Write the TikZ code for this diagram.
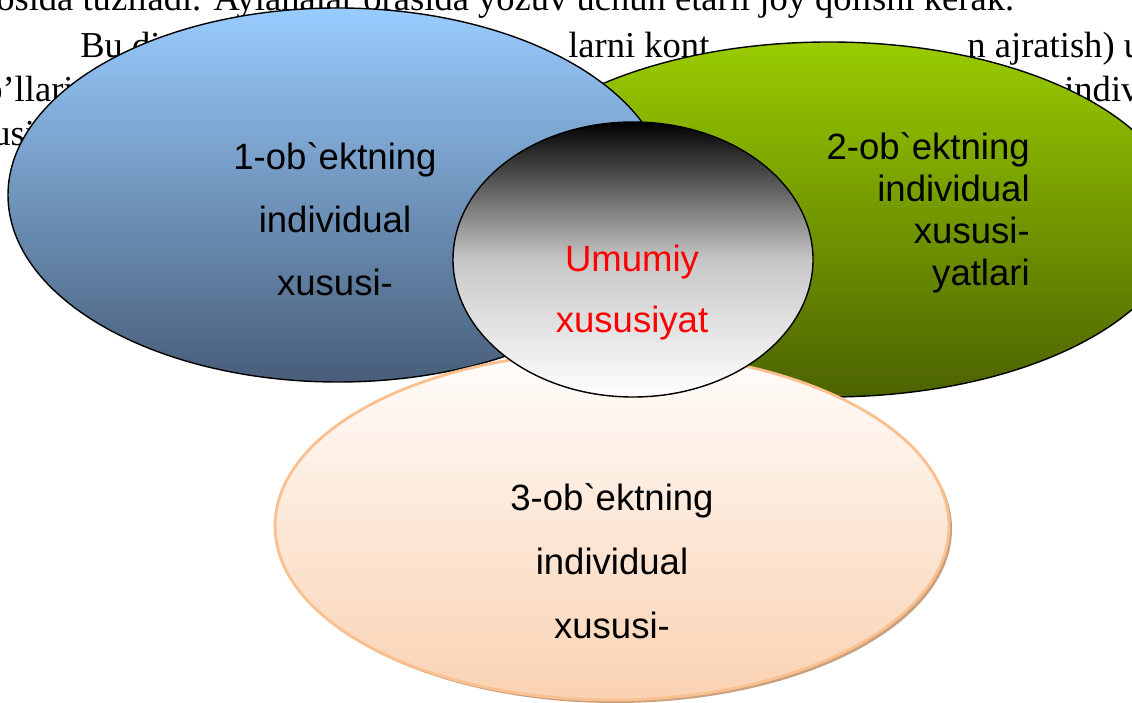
\documentclass[tikz,border=0pt]{standalone}
\usepackage{fontspec}
\setmainfont{Liberation Serif}
\newfontfamily\lblfont{Liberation Sans}
\usetikzlibrary{shapes.geometric}
\definecolor{skytop}{RGB}{153,204,255}
\definecolor{skybot}{RGB}{72,94,122}
\definecolor{limetop}{RGB}{153,204,0}
\definecolor{limebot}{RGB}{76,98,0}
\definecolor{peachtop}{RGB}{255,253,252}
\definecolor{peachbot}{RGB}{250,210,178}
\definecolor{peachline}{RGB}{250,192,143}
\definecolor{peachshadow}{RGB}{200,160,128}
\newcommand{\bq}{\textasciigrave{}}

\begin{document}
\begin{tikzpicture}[
    oval/.style={ellipse, draw=black, line width=1pt, inner sep=0pt},
    lbl/.style={font=\lblfont\fontsize{26}{30}\selectfont, anchor=base, inner sep=0pt},
    pageline/.style={font=\fontsize{26}{30}\selectfont, anchor=base west, inner sep=0pt}]
    \useasboundingbox (0,0) rectangle (28.3,17.55);
    \clip (0,0) rectangle (28.3,17.55);

    % Page text behind the diagram
    \node[pageline] (p1) at (-0.1,17.28) {osida tuziladi. Aylanalar orasida yozuv uchun etarli joy qolishi kerak.};
    \node[pageline] (p2a) at (2.0,16.1) {Bu di};
    \node[pageline] (p2b) at (14.2,16.1) {larni kont};
    \node[pageline] (p2c) at (24.18,16.1) {n ajratish) u};
    \node[pageline] (p3a) at (-0.4,15.0) {o’llari};
    \node[pageline] (p3b) at (26.6,15.0) {indiv};
    \node[pageline] (p4) at (-0.2,13.9) {usi};

    % Ellipses
    \node[oval, top color=limetop, bottom color=limebot,
          minimum width=17.575cm, minimum height=8.875cm] (obj2) at (20.725,12.0625) {};
    \node[oval, top color=skytop, bottom color=skybot,
          minimum width=16.5cm, minimum height=9.35cm] (obj1) at (8.45,12.675) {};
    \node[oval, draw=none, fill=peachshadow,
          minimum width=16.85cm, minimum height=8.7cm] (shadow3) at (15.375,4.325) {};
    \node[oval, draw=peachline, line width=2pt, top color=peachtop, bottom color=peachbot,
          minimum width=16.85cm, minimum height=8.7cm] (obj3) at (15.3,4.4) {};
    \node[oval, top color=black, bottom color=white, middle color=black!22,
          minimum width=9cm, minimum height=6.875cm] (common) at (15.825,11.0625) {};

    % Labels
    \foreach \t [count=\i] in {1-ob\bq ektning, individual, xususi-}
        \node[lbl] (lbl1-\i) at (8.375,14.875-1.575*\i) {\t};
    \foreach \t [count=\i] in {2-ob\bq ektning, individual, xususi-, yatlari}
        \node[lbl, anchor=base east] (lbl2-\i) at (25.75,14.6-1.05*\i) {\t};
    \foreach \t [count=\i] in {Umumiy, xususiyat}
        \node[lbl, text=red] (lbl0-\i) at (15.8,12.275-1.525*\i) {\t};
    \foreach \t [count=\i] in {3-ob\bq ektning, individual, xususi-}
        \node[lbl] (lbl3-\i) at (15.3,6.4-1.6*\i) {\t};
\end{tikzpicture}
\end{document}
